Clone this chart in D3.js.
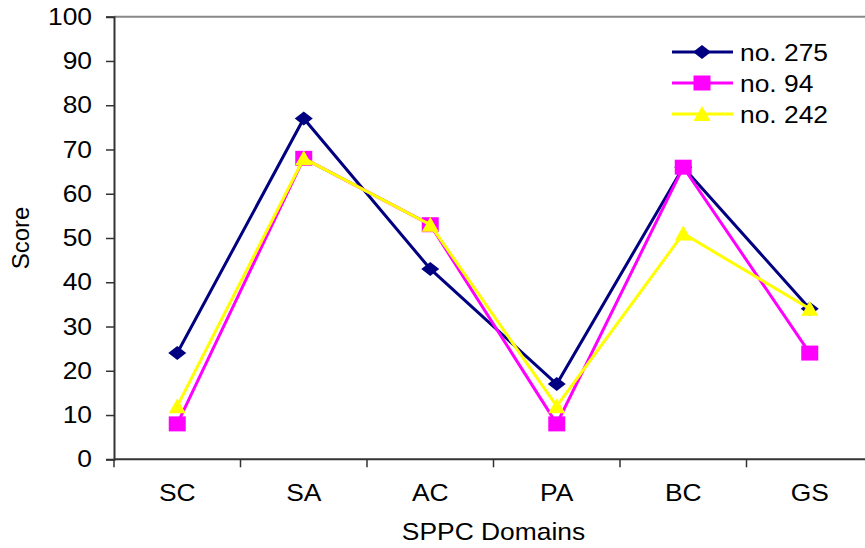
<!DOCTYPE html>
<html>
<head>
<meta charset="utf-8">
<script src="https://cdn.jsdelivr.net/npm/d3@7"></script>
<style>
  body { margin: 0; background: #fff; }
  svg { display: block; font-family: "Liberation Sans", Arial, sans-serif; }
</style>
</head>
<body>
<div id="chart"></div>
<script>
const categories = ["SC", "SA", "AC", "PA", "BC", "GS"];
const yTicks = [0, 10, 20, 30, 40, 50, 60, 70, 80, 90, 100];
const seriesNames = ["no. 275", "no. 94", "no. 242"];
const no275 = [24, 77, 43, 17, 66, 34];
const no94 = [8, 68, 53, 8, 66, 24];
const no242 = [12, 68, 53, 12, 51, 34];

const width = 865, height = 548;
// plot runs past the right edge of the picture, like the original
const margin = { top: 16.7, left: 114, plotRight: 873, bottom: 459.3 };
const fontSize = 24;
const stretch = 1.1; // original text is a bit wide

const svg = d3.select("#chart").append("svg")
    .attr("width", width)
    .attr("height", height);

function addText(g, tx, ty, str, anchor) {
    return g.append("text")
        .attr("transform", `translate(${tx},${ty}) scale(${stretch},1)`)
        .attr("text-anchor", anchor || "start")
        .attr("font-size", fontSize)
        .attr("fill", "#000")
        .text(str);
}

const x = d3.scaleBand()
    .domain(categories)
    .range([margin.left, margin.plotRight]);

const y = d3.scaleLinear()
    .domain([0, 100])
    .range([margin.bottom, margin.top]);

// top border of plot area
svg.append("line")
    .attr("x1", margin.left).attr("x2", margin.plotRight)
    .attr("y1", y(100)).attr("y2", y(100))
    .attr("stroke", "#888").attr("stroke-width", 2);

// y axis
const yAxis = svg.append("g")
    .attr("transform", `translate(${margin.left},0)`)
    .call(d3.axisLeft(y).tickValues(yTicks).tickSize(8).tickPadding(14));
yAxis.select(".domain").attr("stroke", "#333").attr("stroke-width", 2);
yAxis.selectAll(".tick line").attr("stroke", "#333").attr("stroke-width", 1.5);
yAxis.selectAll("text")
    .attr("x", 0)
    .attr("transform", `translate(-22,0) scale(${stretch},1)`)
    .attr("font-size", fontSize).attr("fill", "#000")
    .attr("font-family", "Liberation Sans, Arial, sans-serif");

// x axis: ticks on band edges
const edges = categories.map(c => x(c)).slice(1);
const xAxisG = svg.append("g");
xAxisG.append("line")
    .attr("x1", margin.left).attr("x2", margin.plotRight)
    .attr("y1", y(0)).attr("y2", y(0))
    .attr("stroke", "#333").attr("stroke-width", 2);
xAxisG.selectAll("line.tick")
    .data([margin.left].concat(edges))
    .join("line")
    .attr("class", "tick")
    .attr("x1", d => d).attr("x2", d => d)
    .attr("y1", y(0)).attr("y2", y(0) + 8)
    .attr("stroke", "#333").attr("stroke-width", 1.5);
categories.forEach(c => addText(xAxisG, x(c) + x.bandwidth() / 2, 501, c, "middle"));

// axis titles
addText(svg, (margin.left + margin.plotRight) / 2, 540, "SPPC Domains", "middle");

svg.append("text")
    .attr("transform", `translate(29,${(y(0) + y(100)) / 2}) rotate(-90)`)
    .attr("text-anchor", "middle")
    .attr("font-size", fontSize)
    .text("Score");

// marker shapes, a little wider than tall like the original
const diamond = "M0,-7L9,0L0,7L-9,0Z";
const square = "M-8.5,-7.5H8.5V7.5H-8.5Z";
const triangle = "M0,-8L8.5,7H-8.5Z";

const cx = c => x(c) + x.bandwidth() / 2;

const series = [
    { name: seriesNames[0], values: no275, color: "#000080", shape: diamond },
    { name: seriesNames[1], values: no94, color: "#ff00ff", shape: square },
    { name: seriesNames[2], values: no242, color: "#ffff00", shape: triangle }
];

const line = d3.line()
    .x((d, i) => cx(categories[i]))
    .y(d => y(d));

series.forEach(s => {
    svg.append("path")
        .datum(s.values)
        .attr("fill", "none")
        .attr("stroke", s.color)
        .attr("stroke-width", 3)
        .attr("d", line);

    svg.selectAll(null)
        .data(s.values)
        .join("path")
        .attr("transform", (d, i) => `translate(${cx(categories[i])},${y(d)})`)
        .attr("d", s.shape)
        .attr("fill", s.color);
});

// legend
const legend = svg.append("g").attr("transform", "translate(672,52)");
series.forEach((s, i) => {
    const g = legend.append("g").attr("transform", `translate(0,${i * 31})`);
    g.append("line")
        .attr("x1", 0).attr("x2", 61)
        .attr("stroke", s.color).attr("stroke-width", 3);
    g.append("path")
        .attr("transform", "translate(30,0)")
        .attr("d", s.shape)
        .attr("fill", s.color);
    addText(g, 68, 9, s.name);
});
</script>
</body>
</html>
